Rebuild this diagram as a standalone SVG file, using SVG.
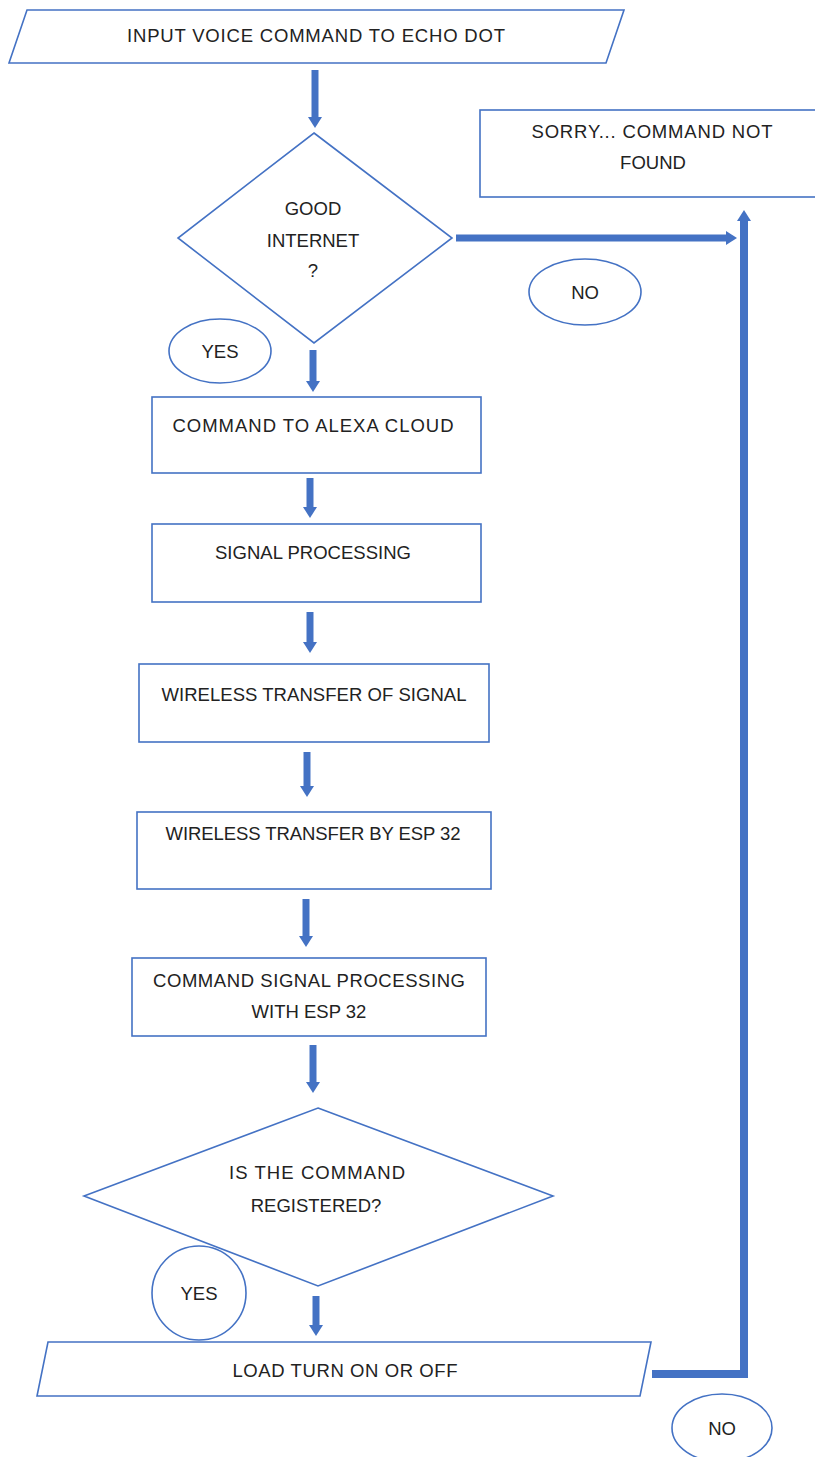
<svg xmlns="http://www.w3.org/2000/svg" width="815" height="1457" viewBox="0 0 815 1457">
<style>
.s{fill:#fff;stroke:#4472C4;stroke-width:1.6}
.t{font-family:"Liberation Sans",Arial,sans-serif;font-size:18.5px;fill:#222;text-anchor:middle}
.a{stroke:#4472C4;stroke-width:7;fill:none}
</style>
<defs>
<marker id="ah" markerUnits="userSpaceOnUse" markerWidth="16" markerHeight="14" refX="1" refY="7" orient="auto">
<path d="M0,0 L11,7 L0,14 Z" fill="#4472C4"/>
</marker>
</defs>
<rect width="815" height="1457" fill="#fff"/>
<g id="start">
<polygon class="s" points="27,10 624,10 606,63 9,63"/>
<text class="t" x="316" y="42" textLength="378" lengthAdjust="spacing">INPUT VOICE COMMAND TO ECHO DOT</text>
</g>
<g id="d1">
<polygon class="s" points="314,133 452,238 314,343 178,238"/>
<text class="t" x="313" y="215">GOOD</text>
<text class="t" x="313" y="247">INTERNET</text>
<text class="t" x="313" y="277">?</text>
</g>
<g id="sorry">
<rect class="s" x="480" y="110" width="340" height="87"/>
<text class="t" x="652" y="138" textLength="241" lengthAdjust="spacing">SORRY... COMMAND NOT</text>
<text class="t" x="653" y="169">FOUND</text>
</g>
<g id="no1">
<ellipse class="s" cx="585" cy="292" rx="56" ry="33"/>
<text class="t" x="585" y="299">NO</text>
</g>
<g id="yes1">
<ellipse class="s" cx="220" cy="351" rx="51" ry="32"/>
<text class="t" x="220" y="358">YES</text>
</g>
<g id="b1">
<rect class="s" x="152" y="397" width="329" height="76"/>
<text class="t" x="313" y="432" textLength="281" lengthAdjust="spacing">COMMAND TO ALEXA CLOUD</text>
</g>
<g id="b2">
<rect class="s" x="152" y="524" width="329" height="78"/>
<text class="t" x="313" y="559" textLength="196" lengthAdjust="spacing">SIGNAL PROCESSING</text>
</g>
<g id="b3">
<rect class="s" x="139" y="664" width="350" height="78"/>
<text class="t" x="314" y="701" textLength="305" lengthAdjust="spacing">WIRELESS TRANSFER OF SIGNAL</text>
</g>
<g id="b4">
<rect class="s" x="137" y="812" width="354" height="77"/>
<text class="t" x="313" y="840" textLength="295" lengthAdjust="spacing">WIRELESS TRANSFER BY ESP 32</text>
</g>
<g id="b5">
<rect class="s" x="132" y="958" width="354" height="78"/>
<text class="t" x="309" y="987" textLength="312" lengthAdjust="spacing">COMMAND SIGNAL PROCESSING</text>
<text class="t" x="309" y="1018">WITH ESP 32</text>
</g>
<g id="d2">
<polygon class="s" points="318,1108 553,1196 318,1286 84,1196"/>
<text class="t" x="317" y="1179" textLength="176" lengthAdjust="spacing">IS THE COMMAND</text>
<text class="t" x="316" y="1212">REGISTERED?</text>
</g>
<g id="yes2">
<ellipse class="s" cx="199" cy="1293" rx="47" ry="47"/>
<text class="t" x="199" y="1300">YES</text>
</g>
<g id="load">
<polygon class="s" points="48,1342 651,1342 640,1396 37,1396"/>
<text class="t" x="345" y="1377" textLength="225" lengthAdjust="spacing">LOAD TURN ON OR OFF</text>
</g>
<g id="no2">
<ellipse class="s" cx="722" cy="1428" rx="50" ry="34"/>
<text class="t" x="722" y="1435">NO</text>
</g>
<g id="connectors">
<line class="a" x1="315" y1="70" x2="315" y2="118" marker-end="url(#ah)"/>
<line class="a" x1="313" y1="350" x2="313" y2="382" marker-end="url(#ah)"/>
<line class="a" x1="310" y1="478" x2="310" y2="508" marker-end="url(#ah)"/>
<line class="a" x1="310" y1="612" x2="310" y2="643" marker-end="url(#ah)"/>
<line class="a" x1="307" y1="752" x2="307" y2="787" marker-end="url(#ah)"/>
<line class="a" x1="306" y1="899" x2="306" y2="937" marker-end="url(#ah)"/>
<line class="a" x1="313" y1="1045" x2="313" y2="1083" marker-end="url(#ah)"/>
<line class="a" x1="316" y1="1296" x2="316" y2="1326" marker-end="url(#ah)"/>
<line class="a" x1="456" y1="238" x2="727" y2="238" marker-end="url(#ah)"/>
<path d="M652,1374 H744 V220" stroke="#4472C4" stroke-width="8" fill="none" marker-end="url(#ah)"/>
</g>
</svg>
